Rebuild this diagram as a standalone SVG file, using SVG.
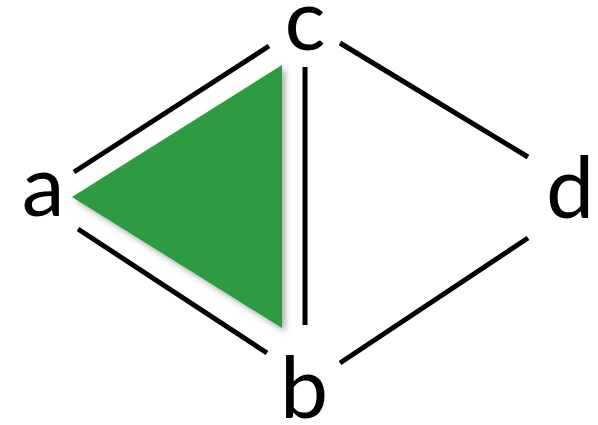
<svg xmlns="http://www.w3.org/2000/svg" width="598" height="425" viewBox="0 0 598 425">
<style>
.edge{stroke:#000;stroke-width:5;fill:none}
.lbl{font-family:Lato,"Liberation Sans",sans-serif;font-size:86px;fill:#000;text-anchor:middle}
</style>
<defs>
<filter id="sh" x="-20%" y="-20%" width="140%" height="140%">
<feDropShadow dx="3" dy="3" stdDeviation="3" flood-color="#000" flood-opacity="0.35"/>
</filter>
</defs>
<rect width="598" height="425" fill="#fff"/>
<g id="face">
<polygon points="72,197 282,65 282,328" fill="#2f9a42" filter="url(#sh)"/>
</g>
<g id="connectors">
<line class="edge" x1="74" y1="172" x2="269" y2="46"/>
<line class="edge" x1="78" y1="229" x2="267" y2="353"/>
<line class="edge" x1="305" y1="67" x2="305" y2="325"/>
<line class="edge" x1="340" y1="43" x2="528" y2="157"/>
<line class="edge" x1="340" y1="363" x2="528" y2="238"/>
</g>
<g id="node-a"><text class="lbl" x="43" y="216">a</text></g>
<g id="node-c"><text class="lbl" x="305" y="50">c</text></g>
<g id="node-b"><text class="lbl" x="304" y="418">b</text></g>
<g id="node-d"><text class="lbl" x="570" y="218">d</text></g>
</svg>
